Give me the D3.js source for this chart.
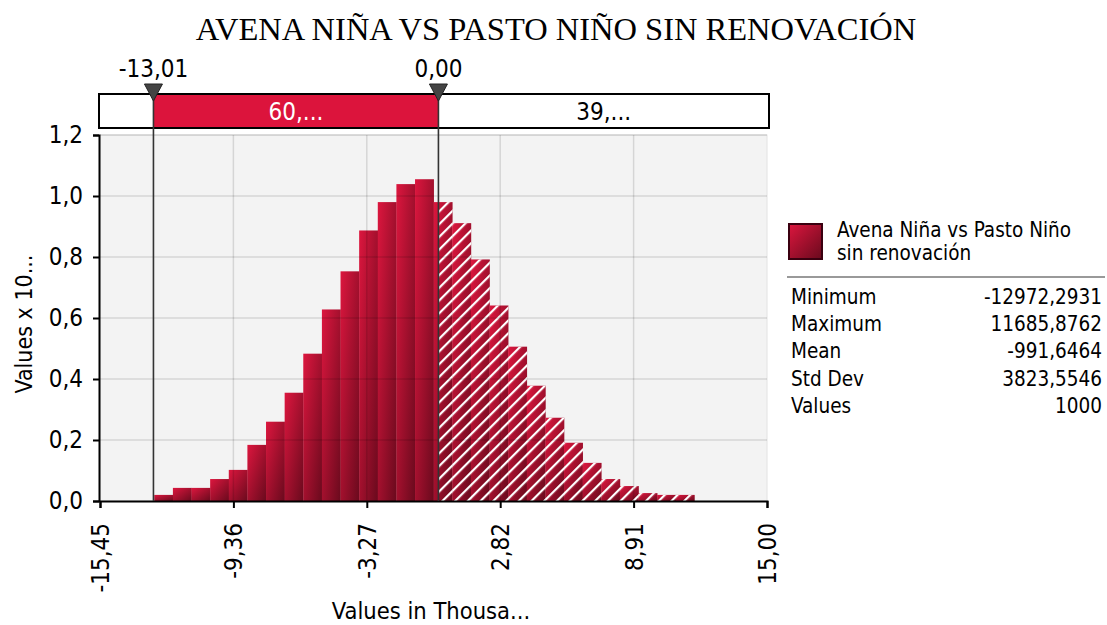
<!DOCTYPE html>
<html>
<head>
<meta charset="utf-8">
<script src="https://cdn.jsdelivr.net/npm/d3@7"></script>
<style>
  body { margin: 0; background: #fff; }
  text { font-family: "DejaVu Sans Condensed", "DejaVu Sans", sans-serif; }
</style>
</head>
<body>
<svg id="chart" width="1107" height="625"></svg>
<script>
// histogram heights (Values x 10^-4), 29 equal bins from min to max
var dens = [0.020, 0.043, 0.043, 0.072, 0.102, 0.184, 0.260, 0.355, 0.483, 0.628,
            0.753, 0.887, 0.980, 1.039, 1.055, 0.980, 0.911, 0.792, 0.641, 0.506,
            0.378, 0.273, 0.191, 0.125, 0.072, 0.049, 0.026, 0.020, 0.020];
var xTicks = [-15.45, -9.36, -3.27, 2.82, 8.91, 15.00];
var yTicks = [0, 0.2, 0.4, 0.6, 0.8, 1.0, 1.2];
var markers = [-13.01, 0.00];
var pcts = ["60,...", "39,..."];
var statNames = ["Minimum", "Maximum", "Mean", "Std Dev", "Values"];
var statVals = ["-12972,2931", "11685,8762", "-991,6464", "3823,5546", "1000"];
var minV = -12.9722931, maxV = 11.6858762;

var svg = d3.select("#chart");
var fmt2 = function(v) { return d3.format(".2f")(v).replace(".", ",").replace("\u2212", "-"); };
var fmt1 = function(v) { return d3.format(".1f")(v).replace(".", ","); };

var x = d3.scaleLinear().domain([xTicks[0], xTicks[xTicks.length - 1]]).range([100, 767]);
var y = d3.scaleLinear().domain([0, 1.2]).range([501, 135]);

var defs = svg.append("defs");
var grad = defs.append("linearGradient").attr("id", "barGrad")
	.attr("x1", 0).attr("y1", 0).attr("x2", 1).attr("y2", 1);
grad.append("stop").attr("offset", "0%").attr("stop-color", "#dc163e");
grad.append("stop").attr("offset", "100%").attr("stop-color", "#690a1d");

var hatch = defs.append("pattern").attr("id", "hatch")
	.attr("patternUnits", "userSpaceOnUse").attr("width", 9).attr("height", 9)
	.attr("patternTransform", "rotate(45)");
hatch.append("rect").attr("x", 0).attr("y", 0).attr("width", 2.2).attr("height", 9).attr("fill", "#fff");

defs.append("clipPath").attr("id", "rightClip").append("rect")
	.attr("x", x(markers[1])).attr("y", 0).attr("width", 800).attr("height", 625);

// title
svg.append("text").attr("x", 556).attr("y", 40).attr("text-anchor", "middle")
	.style("font-family", "'Liberation Serif', serif").style("font-size", "32.5px")
	.text("AVENA NIÑA VS PASTO NIÑO SIN RENOVACIÓN");

// plot background
svg.append("rect").attr("x", 100).attr("y", 135).attr("width", 667).attr("height", 366)
	.attr("fill", "#f3f3f3").attr("stroke", "#e2e2e2");

// bars
var bw = (maxV - minV) / dens.length;
var bins = dens.map(function(v, i) { return { x0: minV + i * bw, x1: minV + (i + 1) * bw, v: v }; });
var bars = svg.append("g");
bars.selectAll("rect.bar").data(bins).enter().append("rect").attr("class", "bar")
	.attr("x", d => x(d.x0)).attr("width", d => x(d.x1) - x(d.x0) + 0.3)
	.attr("y", d => y(d.v)).attr("height", d => y(0) - y(d.v))
	.attr("fill", "url(#barGrad)");
bars.append("g").attr("clip-path", "url(#rightClip)")
	.selectAll("rect").data(bins).enter().append("rect")
	.attr("x", d => x(d.x0)).attr("width", d => x(d.x1) - x(d.x0) + 0.3)
	.attr("y", d => y(d.v)).attr("height", d => y(0) - y(d.v))
	.attr("fill", "url(#hatch)");

// grid over the bars (translucent, as in the original)
svg.append("g").selectAll("line").data(xTicks.slice(1, -1)).enter().append("line")
	.attr("x1", d => x(d)).attr("x2", d => x(d)).attr("y1", 135).attr("y2", 501)
	.attr("stroke", "rgba(0,0,0,0.12)").attr("stroke-width", 1.5);
svg.append("g").selectAll("line").data(yTicks.slice(1)).enter().append("line")
	.attr("x1", 100).attr("x2", 767).attr("y1", d => y(d)).attr("y2", d => y(d))
	.attr("stroke", "rgba(0,0,0,0.12)").attr("stroke-width", 1.5);

// axes
var yAxis = svg.append("g").attr("transform", "translate(99,0)")
	.call(d3.axisLeft(y).tickValues(yTicks).tickFormat(fmt1).tickSize(6).tickPadding(10));
var xAxis = svg.append("g").attr("transform", "translate(0,501)")
	.call(d3.axisBottom(x).tickValues(xTicks).tickFormat(fmt2).tickSize(7));
[yAxis, xAxis].forEach(function(a) {
	a.select(".domain").attr("stroke", "#000").attr("stroke-width", 2);
	a.selectAll(".tick line").attr("stroke", "#000").attr("stroke-width", 2);
	a.selectAll("text").style("font-size", "24px").attr("fill", "#000")
		.style("font-family", "'DejaVu Sans Condensed', sans-serif");
});
xAxis.selectAll("text").attr("transform", "rotate(-90)")
	.attr("text-anchor", "end").attr("x", -22).attr("y", 0).attr("dy", "0.35em");

// axis titles
svg.append("text").attr("transform", "translate(32,324) rotate(-90)")
	.attr("text-anchor", "middle").style("font-size", "23px").text("Values x 10...");
svg.append("text").attr("x", 431).attr("y", 619).attr("text-anchor", "middle")
	.style("font-size", "23.5px").text("Values in Thousa...");

// percent bar
svg.append("rect").attr("x", 99).attr("y", 94).attr("width", 670).attr("height", 34)
	.attr("fill", "#fff").attr("stroke", "#000").attr("stroke-width", 2);
svg.append("rect").attr("x", x(markers[0])).attr("y", 95).attr("width", x(markers[1]) - x(markers[0]))
	.attr("height", 32).attr("fill", "#dc143c");
svg.append("text").attr("x", (x(markers[0]) + x(markers[1])) / 2).attr("y", 120)
	.attr("text-anchor", "middle").attr("fill", "#fff").style("font-size", "24px").text(pcts[0]);
svg.append("text").attr("x", (x(markers[1]) + 769) / 2).attr("y", 120)
	.attr("text-anchor", "middle").attr("fill", "#000").style("font-size", "24px").text(pcts[1]);

// marker lines, triangles and labels
var mk = svg.append("g").selectAll("g").data(markers).enter().append("g");
mk.append("line").attr("x1", d => x(d)).attr("x2", d => x(d)).attr("y1", 94).attr("y2", 501)
	.attr("stroke", "#333").attr("stroke-width", 1.6);
mk.append("path").attr("d", d => "M" + (x(d) - 9) + ",84L" + (x(d) + 9) + ",84L" + x(d) + ",101Z")
	.attr("fill", "#444").attr("stroke", "#222").attr("stroke-width", 1);
mk.append("text").attr("x", d => x(d)).attr("y", 77).attr("text-anchor", "middle")
	.style("font-size", "24px").text(fmt2);

// legend
svg.append("rect").attr("x", 789).attr("y", 224).attr("width", 33).attr("height", 35)
	.attr("fill", "url(#barGrad)").attr("stroke", "#3a0010").attr("stroke-width", 2);
svg.append("text").attr("x", 837).attr("y", 237).style("font-size", "20.5px").text("Avena Niña vs Pasto Niño");
svg.append("text").attr("x", 837).attr("y", 260).style("font-size", "20.5px").text("sin renovación");
svg.append("line").attr("x1", 787).attr("x2", 1105).attr("y1", 277).attr("y2", 277)
	.attr("stroke", "#999").attr("stroke-width", 2);
var rows = svg.append("g").selectAll("g").data(statNames).enter().append("g")
	.attr("transform", (d, i) => "translate(0," + (304 + i * 27.2) + ")");
rows.append("text").attr("x", 791).style("font-size", "20.5px").text(d => d);
rows.append("text").attr("x", 1102).attr("text-anchor", "end").style("font-size", "20.5px")
	.text((d, i) => statVals[i]);
</script>
</body>
</html>
